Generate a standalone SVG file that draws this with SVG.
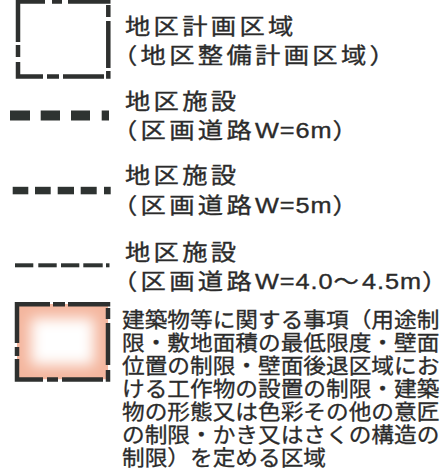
<svg xmlns="http://www.w3.org/2000/svg" width="446" height="473" viewBox="0 0 446 473">
  <defs>
    <style>
      .ln { fill: none; stroke: #2e302f; stroke-width: 4.5; stroke-linecap: butt; }
      .dash { fill: #2e3331; }
      .lbl { font-family: "Liberation Sans", "Noto Sans CJK JP", sans-serif; font-size: 22px; font-weight: 400; fill: #2b2b2b; stroke: #2b2b2b; stroke-width: 0.35px; letter-spacing: 2.9px; }
      .lat { letter-spacing: 0.8px; }
      .end { letter-spacing: 0px; }
      .blk { font-family: "Liberation Sans", "Noto Sans CJK JP", sans-serif; font-size: 21px; font-weight: 400; fill: #2b2b2b; stroke: #2b2b2b; stroke-width: 0.3px; letter-spacing: 0px; }
    </style>
    <filter id="soft" x="-50%" y="-50%" width="200%" height="200%">
      <feGaussianBlur stdDeviation="7"/>
    </filter>
    <clipPath id="boxclip">
      <rect x="17" y="304" width="91" height="75.5"/>
    </clipPath>
  </defs>
  <rect width="446" height="473" fill="#ffffff"/>

  <g id="legend-district-plan-area">
    <path class="ln" d="M15.75 1.5H45M52 1.5H62M68 1.5H110.5M18 0V42M18 45V57M18 62V78.75M15.75 76.5H43M47 76.5H59M63 76.5H104M108.3 5V17M108.3 21V68M108.3 71V78.75"/>
    <text class="lbl" transform="translate(125 34) scale(1.15 1)">地区計画区<tspan class="end">域</tspan></text>
    <text class="lbl" transform="translate(112 63) scale(1.15 1)">（地区整備計画区域<tspan class="end">）</tspan></text>
  </g>

  <g id="legend-road-6m">
    <rect class="dash" x="10" y="110.5" width="20" height="10"/>
    <rect class="dash" x="40.7" y="110.5" width="19.3" height="10"/>
    <rect class="dash" x="71" y="110.5" width="19" height="10"/>
    <rect class="dash" x="101.7" y="110.5" width="7.3" height="10"/>
    <text class="lbl" transform="translate(125 109) scale(1.15 1)">地区施<tspan class="end">設</tspan></text>
    <text class="lbl" transform="translate(112 138) scale(1.15 1)">（区画道路<tspan class="lat">W=6m</tspan><tspan class="end">）</tspan></text>
  </g>

  <g id="legend-road-5m">
    <rect class="dash" x="12.7" y="186.8" width="15.6" height="7.5"/>
    <rect class="dash" x="35" y="186.8" width="15.7" height="7.5"/>
    <rect class="dash" x="57.7" y="186.8" width="16.3" height="7.5"/>
    <rect class="dash" x="80.7" y="186.8" width="16" height="7.5"/>
    <rect class="dash" x="104" y="186.8" width="6.7" height="7.5"/>
    <text class="lbl" transform="translate(125 183) scale(1.15 1)">地区施<tspan class="end">設</tspan></text>
    <text class="lbl" transform="translate(112 213) scale(1.15 1)">（区画道路<tspan class="lat">W=5m</tspan><tspan class="end">）</tspan></text>
  </g>

  <g id="legend-road-4m">
    <rect class="dash" x="15" y="263.3" width="18.3" height="4"/>
    <rect class="dash" x="38.3" y="263.3" width="18.4" height="4"/>
    <rect class="dash" x="61" y="263.3" width="18.3" height="4"/>
    <rect class="dash" x="83.3" y="263.3" width="19.4" height="4"/>
    <rect class="dash" x="106" y="263.3" width="3.5" height="4"/>
    <text class="lbl" transform="translate(125 260) scale(1.15 1)">地区施<tspan class="end">設</tspan></text>
    <text class="lbl" transform="translate(112 289) scale(1.15 1)">（区画道路<tspan class="lat">W=4.0</tspan>～<tspan class="lat">4.5m</tspan><tspan class="end">）</tspan></text>
  </g>

  <g id="legend-building-area">
    <g clip-path="url(#boxclip)">
      <rect x="17" y="304" width="91" height="75.5" fill="#f4b69e"/>
      <rect x="31" y="318" width="63" height="47" fill="#ffffff" filter="url(#soft)"/>
    </g>
    <path class="ln" d="M14.75 304.3H50M53 304.3H65M68 304.3H110.25M17 302V343M17 347V356M17 359V381.75M14.75 379.5H43M47 379.5H58M62 379.5H103M108 308V319M108 323V365M108 370V381.75"/>
    <text class="blk" transform="translate(122 327) scale(1.08 1)">建築物等に関する事項（用途制</text>
    <text class="blk" transform="translate(122 350) scale(1.08 1)">限・敷地面積の最低限度・壁面</text>
    <text class="blk" transform="translate(122 373) scale(1.08 1)">位置の制限・壁面後退区域にお</text>
    <text class="blk" transform="translate(122 396) scale(1.08 1)">ける工作物の設置の制限・建築</text>
    <text class="blk" transform="translate(122 419) scale(1.08 1)">物の形態又は色彩その他の意匠</text>
    <text class="blk" transform="translate(122 442) scale(1.08 1)">の制限・かき又はさくの構造の</text>
    <text class="blk" transform="translate(122 465) scale(1.08 1)">制限）を定める区域</text>
  </g>
</svg>
